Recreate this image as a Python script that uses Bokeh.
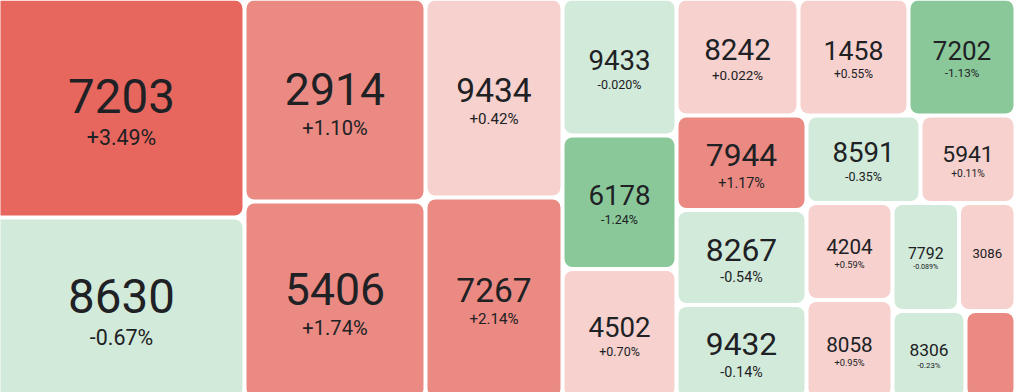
from bokeh.plotting import figure
from bokeh.models import ColumnDataSource, Range1d
from bokeh.core.properties import value
from bokeh.embed import file_html
from bokeh.resources import INLINE

# ---- data ----
codes = ["7203", "8630", "2914", "5406", "9434", "7267", "9433", "6178", "4502",
         "8242", "1458", "7202", "7944", "8267", "9432", "8591", "5941", "4204",
         "8058", "7792", "3086", "8306", ""]
# daily change in percent (3086 and the last, unlabeled tile: estimated from colour)
changes = [3.49, -0.67, 1.10, 1.74, 0.42, 2.14, -0.020, -1.24, 0.70,
           0.022, 0.55, -1.13, 1.17, -0.54, -0.14, -0.35, 0.11, 0.59,
           0.95, -0.089, 0.30, -0.23, 1.50]
# tile weight (estimated relative size, e.g. market value)
weights = [55626, 45974, 36743, 35657, 27263, 27537, 15618, 15219, 14763,
           14274, 12870, 12519, 12285, 12350, 12155, 9975, 8313, 8342,
           8471, 7182, 6102, 6388, 4375]

W, H = 1016, 392
FONT = "Roboto"
TEXT_COLOR = "#202124"


def squarify(vals, x0, y0, x1, y1, ratio=1.0):
    rects = [None] * len(vals)
    total = float(sum(vals))
    n = len(vals)
    i0 = 0
    while i0 < n:
        dx, dy = x1 - x0, y1 - y0
        i1 = i0
        s = vals[i1]
        i1 += 1
        mn = mx = s
        alpha = max(dy / dx, dx / dy) / (total * ratio)
        beta = s * s * alpha
        min_ratio = max(mx / beta, beta / mn)
        while i1 < n:
            v = vals[i1]
            s2 = s + v
            mn2, mx2 = min(mn, v), max(mx, v)
            beta = s2 * s2 * alpha
            r = max(mx2 / beta, beta / mn2)
            if r > min_ratio:
                break
            s, mn, mx, min_ratio = s2, mn2, mx2, r
            i1 += 1
        if dx < dy:
            h = dy * s / total
            xx = x0
            for i in range(i0, i1):
                w = dx * vals[i] / s
                rects[i] = (xx, y0, xx + w, y0 + h)
                xx += w
            y0 += h
        else:
            w = dx * s / total
            yy = y0
            for i in range(i0, i1):
                h = dy * vals[i] / s
                rects[i] = (x0, yy, x0 + w, yy + h)
                yy += h
            x0 += w
        total -= s
        i0 = i1
    return rects


def colour(c):
    if c >= 3:
        return "#E7665E"
    if c >= 1:
        return "#EA8A83"
    if c > 0:
        return "#F6D1CE"
    if c > -1:
        return "#D2EAD9"
    return "#8AC899"


def fmt(c):
    if abs(c) < 0.1:
        return f"{c:+.3f}%"
    return f"{c:+.2f}%"


rects = squarify(weights, -10, -2, 1015, 398)
pad = 2
L = [r[0] + pad for r in rects]
T = [r[1] + pad for r in rects]
R = [r[2] - pad for r in rects]
B = [r[3] - pad for r in rects]

tiles = ColumnDataSource(dict(left=L, right=R, top=T, bottom=B,
                              color=[colour(c) for c in changes]))

cx, cy_code, cy_pct, code_txt, pct_txt, fs_code, fs_pct = [], [], [], [], [], [], []
for i, c in enumerate(codes):
    l, r, t, b = L[i], R[i], T[i], B[i]
    w = r - l
    if w < 50 or not c:
        continue
    F = min(0.252 * w, 47.5)
    f = 0.45 * F
    x = (max(l, 0) + min(r, W)) / 2
    yc = (t + b) / 2
    cx.append(x)
    cy_code.append(yc - 0.25 * F)
    code_txt.append(c)
    fs_code.append(f"{F:.1f}px")
    if f >= 6:
        cy_pct.append(yc + 0.62 * F + 0.02 * f)
        pct_txt.append(fmt(changes[i]))
    else:
        cy_pct.append(yc)
        pct_txt.append("")
    fs_pct.append(f"{f:.1f}px")

labels = ColumnDataSource(dict(x=cx, yc=cy_code, yp=cy_pct, code=code_txt,
                               pct=pct_txt, fc=fs_code, fp=fs_pct))

p = figure(width=W, height=H, x_range=Range1d(0, W), y_range=Range1d(H, 0),
           toolbar_location=None, output_backend="svg", min_border=0)
p.axis.visible = False
p.grid.visible = False
p.outline_line_color = None
p.background_fill_color = "white"
p.border_fill_color = "white"

p.quad(left="left", right="right", top="top", bottom="bottom", source=tiles,
       fill_color="color", line_color=None, border_radius=8)
p.text(x="x", y="yc", text="code", source=labels, text_font=value(FONT),
       text_font_size="fc", text_color=TEXT_COLOR, text_align="center",
       text_baseline="alphabetic")
p.text(x="x", y="yp", text="pct", source=labels, text_font=value(FONT),
       text_font_size="fp", text_color=TEXT_COLOR, text_align="center",
       text_baseline="alphabetic")

open("out.html", "w").write(file_html(p, INLINE))
